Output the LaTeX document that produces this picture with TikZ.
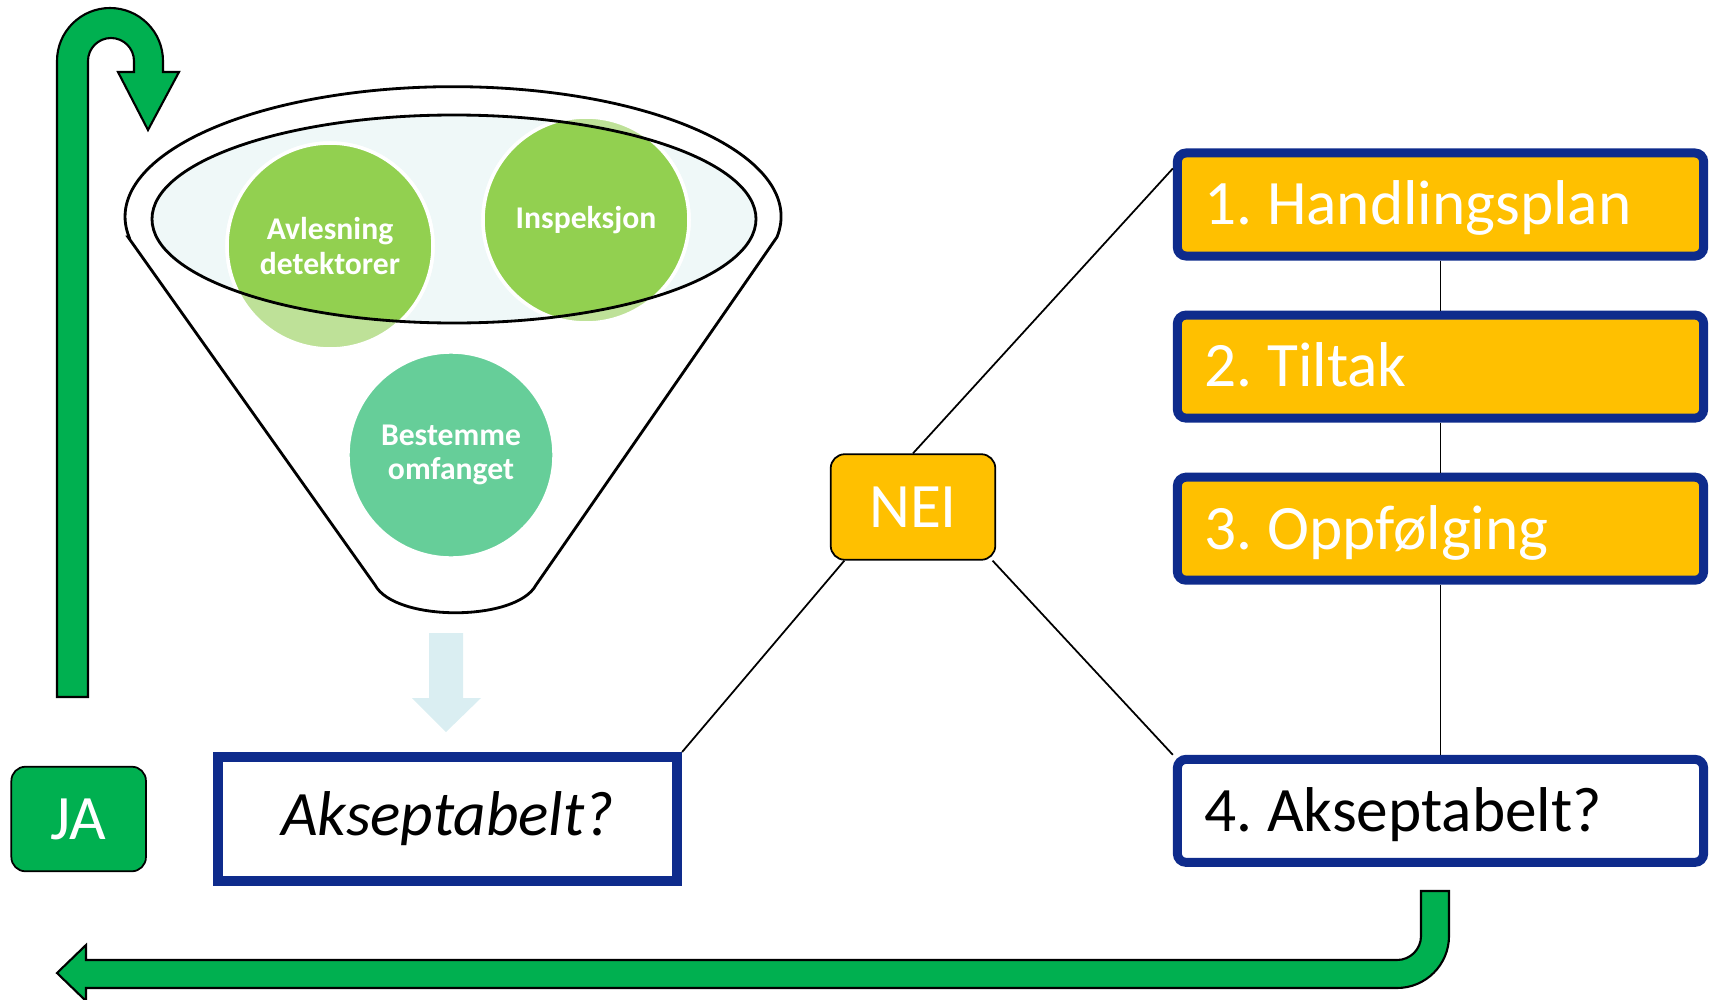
\documentclass[tikz,border=0pt]{standalone}
\usepackage{fontspec}
\setmainfont{Carlito}
\usepackage{tikz}
\usetikzlibrary{positioning}
\frenchspacing
\definecolor{dkblue}{RGB}{14,43,140}
\definecolor{orangebox}{RGB}{255,192,0}
\definecolor{arrowgreen}{RGB}{0,176,80}
\definecolor{midgreen}{RGB}{146,208,80}
\definecolor{ltgreen}{RGB}{190,225,152}
\definecolor{ellfill}{RGB}{239,248,248}
\definecolor{tealgreen}{RGB}{102,206,153}
\definecolor{ltblue}{RGB}{218,238,242}
\tikzset{
  bigtext/.style={font=\fontsize{18pt}{21pt}\selectfont},
  stepbox/.style={bigtext, draw=dkblue, line width=2.56pt, rounded corners=2.5pt,
    fill=orangebox, text=white, minimum height=1.03cm, text width=4.71cm,
    inner xsep=0.275cm, align=flush left, text height=11.6pt, text depth=0pt},
  answer/.style={bigtext, draw=black, line width=0.5pt, rounded corners=4pt, text=white},
  bubble/.style={circle, minimum size=2.06cm, inner sep=0pt, align=center, text=white,
    font=\fontsize{9pt}{9.7pt}\selectfont\bfseries},
  link/.style={draw=black, line width=0.5pt},
  garrow/.style={fill=arrowgreen, draw=black, line width=0.6pt},
  funnel/.style={draw=black, line width=0.8pt}
}
\begin{document}
\begin{tikzpicture}[x=0.01cm, y=0.01cm]
\useasboundingbox (0,0) rectangle (1715,-1000);

\filldraw[garrow] (57,-697) -- (57,-61) arc[start angle=180, end angle=0, radius=53]
  -- (163,-72) -- (179,-72) -- (148,-130) -- (118,-72) -- (134,-72) -- (134,-61)
  arc[start angle=0, end angle=180, radius=23] -- (88,-697) -- cycle;
\filldraw[garrow] (1449,-891) -- (1449,-936) arc[start angle=0, end angle=-90, radius=52]
  -- (86,-988) -- (86,-1001) -- (57,-973) -- (86,-945) -- (86,-960) -- (1397,-960)
  arc[start angle=-90, end angle=0, radius=24] -- (1421,-891) -- cycle;

% funnel
\filldraw[funnel, fill=white] (128,-237) -- (375,-585) .. controls (395,-622) and (516,-622) .. (536,-585)
  -- (777,-237) arc[start angle=-9, end angle=189, x radius=328, y radius=130] -- cycle;
\fill[ellfill] (454,-219) ellipse[x radius=302, y radius=104];
\foreach \p in {(330,-246),(586,-220)}
  \filldraw[fill=ltgreen, draw=white, line width=1pt] \p circle[radius=103];
\begin{scope}
  \clip (454,-219) ellipse[x radius=302, y radius=104];
  \foreach \p in {(330,-246),(586,-220)}
    \filldraw[fill=midgreen, draw=white, line width=1pt] \p circle[radius=103];
\end{scope}
\draw[funnel] (454,-219) ellipse[x radius=302, y radius=104];
\node[bubble] (avl) at (330,-246) {Avlesning\\detektorer};
\node[bubble] (insp) at (586,-220) {Inspeksjon};
\node[bubble, fill=tealgreen, draw=white, line width=1pt] (best) at (451,-455) {Bestemme\\omfanget};
\fill[ltblue] (429,-633) -- (463,-633) -- (463,-698) -- (481,-698) -- (446,-732) -- (412,-698) -- (429,-698) -- cycle;

\node[bigtext, draw=dkblue, line width=2.85pt, minimum width=4.59cm, minimum height=1.24cm] (akse) at (447.5,-819) {\itshape Akseptabelt?};
\node[answer, fill=arrowgreen, minimum width=1.345cm, minimum height=1.045cm, left=0.66cm of akse] (ja) {JA};
\node[answer, fill=orangebox, minimum width=1.645cm, minimum height=1.055cm] (nei) at (913,-507) {NEI};

\node[stepbox] (b1) at (1440.5,-204.5) {1. Handlingsplan};
\node[stepbox, below=0.5cm of b1] (b2) {2. Tiltak};
\node[stepbox, below=0.5cm of b2] (b3) {3. Oppfølging};
\node[stepbox, below=1.7cm of b3, fill=white, text=black] (b4) {4. Akseptabelt?};

\draw[link] (nei.north) -- ([yshift=-0.2cm]b1.north west);
\draw[link] (nei.218) -- (akse.north east);
\draw[link] (nei.326) -- (b4.north west);
\draw[link] (b1) -- (b2) (b2) -- (b3) (b3) -- (b4);
\end{tikzpicture}
\end{document}
